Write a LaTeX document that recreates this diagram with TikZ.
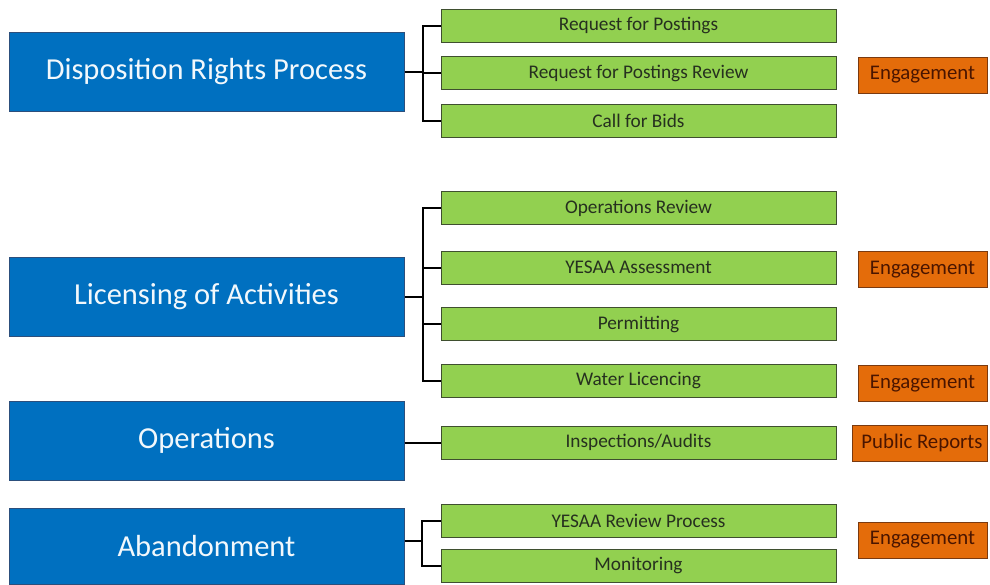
\documentclass[tikz,border=0pt]{standalone}
\usepackage{fontspec}
\setmainfont{Carlito}
\usetikzlibrary{positioning}

\definecolor{procblue}{HTML}{0070C0}
\definecolor{procedge}{HTML}{2C4F7C}
\definecolor{taskgreen}{HTML}{92D050}
\definecolor{taskedge}{HTML}{3F4F2F}
\definecolor{tasktext}{HTML}{26301F}
\definecolor{outorange}{HTML}{E46C0A}
\definecolor{outedge}{HTML}{7A3A10}
\definecolor{outtext}{HTML}{4A1500}

\begin{document}
\begin{tikzpicture}[
    x=1pt, y=-1pt,
    process/.style={rectangle, draw=procedge, line width=1pt, fill=procblue, text=white!95!procblue, minimum width=395pt, minimum height=79pt, inner sep=0pt, font=\fontsize{30.5}{36}\selectfont},
    task/.style={rectangle, draw=taskedge, line width=1pt, fill=taskgreen, text=tasktext, minimum width=395pt, minimum height=33pt, inner sep=0pt, font=\fontsize{19.3}{23}\selectfont},
    outcome/.style={rectangle, draw=outedge, line width=1pt, fill=outorange, text=outtext, minimum width=129pt, minimum height=36pt, inner sep=0pt, font=\fontsize{20.8}{24}\selectfont},
    link/.style={draw=black, line width=2pt}
]
\useasboundingbox (0,0) rectangle (990,584);

% Process stages
\node[process] (dispo) at (206.5,71.5) {Disposition Rights Process};
\node[process] (licensing) at (206.5,297) {Licensing of Activities};
\node[process] (operations) at (206.5,440.5) {Operations};
\node[process, minimum height=76pt] (abandon) at (206.5,546) {Abandonment};

% Disposition steps
\node[task] (rfp) at (638.5,25.5) {Request for Postings};
\node[task] (rfpreview) at (638.5,73) {Request for Postings Review};
\node[task] (bids) at (638.5,120.5) {Call for Bids};

% Licensing steps
\node[task] (opsreview) at (638.5,208) {Operations Review};
\node[task] (yesaa) at (638.5,267.5) {YESAA Assessment};
\node[task] (permit) at (638.5,324) {Permitting};
\node[task] (water) at (638.5,381) {Water Licencing};

% Operations step
\node[task] (inspect) at (638.5,442.5) {Inspections/Audits};

% Abandonment steps
\node[task] (yesaareview) at (638.5,520.5) {YESAA Review Process};
\node[task] (monitor) at (638.5,566) {Monitoring};

% Engagement and reporting
\node[outcome] (eng1) at (922.5,75) {Engagement};
\node[outcome] (eng2) at (922.5,269.5) {Engagement};
\node[outcome] (eng3) at (922.5,383.5) {Engagement};
\node[outcome, minimum width=135pt] (reports) at (919.5,443) {\hspace{5pt}Public Reports};
\node[outcome] (eng4) at (922.5,540) {Engagement};

% Branch points
\coordinate (dispoJ) at (423,71.5);
\coordinate (licJ) at (423,297);
\coordinate (abandJ) at (422,541);

% Connectors
\draw[link] (dispo.east) -- (dispoJ);
\foreach \t in {rfp,rfpreview,bids}
    \draw[link] (dispoJ) |- (\t.west);

\draw[link] (licensing.east) -- (licJ);
\foreach \t in {opsreview,yesaa,permit,water}
    \draw[link] (licJ) |- (\t.west);

\draw[link] (operations.east |- inspect.west) -- (inspect.west);

\draw[link] (abandon.east |- abandJ) -- (abandJ);
\foreach \t in {yesaareview,monitor}
    \draw[link] (abandJ) |- (\t.west);

\end{tikzpicture}
\end{document}
